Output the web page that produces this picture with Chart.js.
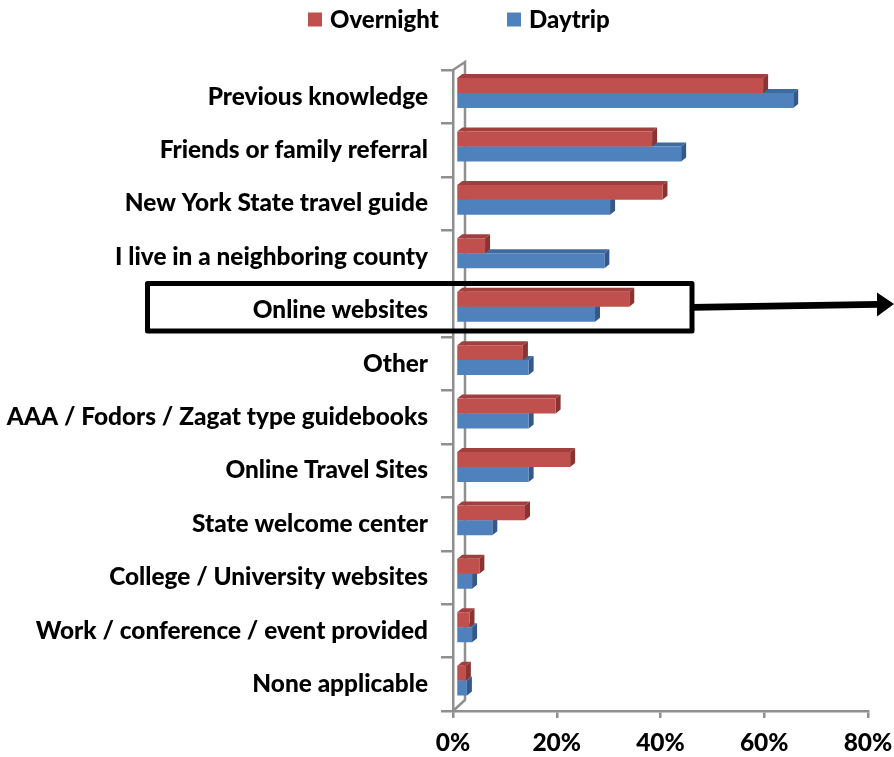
<!DOCTYPE html>
<html>
<head>
<meta charset="utf-8">
<script src="https://cdn.jsdelivr.net/npm/chart.js@4"></script>
<style>
  body { margin: 0; background: #fff; }
  canvas { display: block; }
</style>
</head>
<body>
<canvas id="sourceChart" width="894" height="757"></canvas>
<script>
const categories = [
    "Previous knowledge",
    "Friends or family referral",
    "New York State travel guide",
    "I live in a neighboring county",
    "Online websites",
    "Other",
    "AAA / Fodors / Zagat type guidebooks",
    "Online Travel Sites",
    "State welcome center",
    "College / University websites",
    "Work / conference / event provided",
    "None applicable"
];

const overnight = [59.2, 37.8, 39.8, 5.6, 33.4, 12.9, 19.2, 22.0, 13.3, 4.5, 2.6, 1.9];

const daytrip = [65.0, 43.4, 29.7, 28.6, 26.8, 14.0, 14.0, 14.0, 7.0, 3.1, 3.1, 2.1];

const xTicks = [0, 20, 40, 60, 80];

const FONT = "Lato, 'Open Sans', sans-serif";
const AXIS_GREY = "#8f8f8f";

// colours for front / top / side of the 3d bars
const faces = [
    { front: "#C0504D", top: "#A03F3D", side: "#8A3331" },
    { front: "#4F81BD", top: "#3F6A9C", side: "#34588A" }
];
const DEPTH_X = 5, DEPTH_Y = -4;
const SHIFT_X = 3, SHIFT_Y = -3.7;

// bars are drawn slightly shifted to sit inside the 3d walls
const shiftBars = {
    id: "shiftBars",
    beforeDatasetsDraw(chart) {
        chart.ctx.save();
        chart.ctx.translate(SHIFT_X, SHIFT_Y);
    },
    afterDatasetsDraw(chart) {
        chart.ctx.restore();
    },
    beforeDatasetDraw(chart, args) {
        const ctx = chart.ctx;
        const c = faces[args.index];
        args.meta.data.forEach(bar => {
            const p = bar.getProps(["x", "y", "base", "height"], true);
            const x0 = Math.min(p.base, p.x), x1 = Math.max(p.base, p.x);
            const yt = p.y - p.height / 2, yb = p.y + p.height / 2;
            ctx.fillStyle = c.top;
            ctx.beginPath();
            ctx.moveTo(x0, yt);
            ctx.lineTo(x0 + DEPTH_X, yt + DEPTH_Y);
            ctx.lineTo(x1 + DEPTH_X, yt + DEPTH_Y);
            ctx.lineTo(x1, yt);
            ctx.closePath();
            ctx.fill();
            ctx.fillStyle = c.side;
            ctx.beginPath();
            ctx.moveTo(x1, yt);
            ctx.lineTo(x1 + DEPTH_X, yt + DEPTH_Y);
            ctx.lineTo(x1 + DEPTH_X, yb + DEPTH_Y);
            ctx.lineTo(x1, yb);
            ctx.closePath();
            ctx.fill();
        });
    }
};

// back wall lines of the 3d plot
const walls = {
    id: "walls",
    beforeDatasetsDraw(chart) {
        const { ctx, chartArea: a } = chart;
        ctx.save();
        ctx.strokeStyle = AXIS_GREY;
        ctx.lineWidth = 2.5;
        ctx.beginPath();
        ctx.moveTo(a.left, a.top);
        ctx.lineTo(a.left + 12, a.top - 8);
        ctx.lineTo(a.left + 12, a.bottom - 11);
        ctx.lineTo(a.left, a.bottom);
        ctx.stroke();
        ctx.restore();
    }
};

const legendTop = {
    id: "legendTop",
    afterDraw(chart) {
        const ctx = chart.ctx;
        const spots = [308, 507];
        ctx.save();
        ctx.font = "900 24px " + FONT;
        ctx.textBaseline = "middle";
        chart.data.datasets.forEach((ds, i) => {
            ctx.fillStyle = ds.backgroundColor;
            ctx.fillRect(spots[i], 12.5, 14, 14);
            ctx.fillStyle = "#000";
            ctx.fillText(ds.label, spots[i] + 22, 20);
        });
        ctx.restore();
    }
};

// black box round "Online websites" with arrow to the right
const callout = {
    id: "callout",
    afterDraw(chart) {
        const ctx = chart.ctx;
        const yScale = chart.scales.y;
        const cy = yScale.getPixelForValue(categories.indexOf("Online websites")) - 3.5;
        ctx.save();
        ctx.strokeStyle = "#000";
        ctx.lineJoin = "round";
        ctx.lineWidth = 5;
        ctx.strokeRect(147.5, cy - 23.5, 544.5, 47.5);
        ctx.lineWidth = 7;
        ctx.beginPath();
        ctx.moveTo(692, cy + 0.5);
        ctx.lineTo(878, cy - 2.5);
        ctx.stroke();
        ctx.fillStyle = "#000";
        ctx.beginPath();
        ctx.moveTo(877, cy - 14.5);
        ctx.lineTo(894, cy - 3);
        ctx.lineTo(877, cy + 9.5);
        ctx.closePath();
        ctx.fill();
        ctx.restore();
    }
};

new Chart(document.getElementById("sourceChart"), {
    type: "bar",
    data: {
        labels: categories,
        datasets: [
            { label: "Overnight", data: overnight, backgroundColor: faces[0].front },
            { label: "Daytrip", data: daytrip, backgroundColor: faces[1].front }
        ]
    },
    options: {
        indexAxis: "y",
        responsive: false,
        animation: false,
        categoryPercentage: 0.56,
        barPercentage: 1,
        layout: { padding: { top: 70, right: 26, left: 0, bottom: 0 } },
        plugins: {
            legend: { display: false },
            tooltip: { enabled: false }
        },
        scales: {
            x: {
                min: 0,
                max: 80,
                afterBuildTicks(scale) {
                    scale.ticks = xTicks.map(v => ({ value: v }));
                },
                afterFit(scale) {
                    scale.height = 46;
                    scale.paddingLeft = 0;
                    scale.paddingRight = 0;
                },
                border: { color: AXIS_GREY, width: 2.5 },
                grid: { drawOnChartArea: false, color: AXIS_GREY, lineWidth: 2.5, tickLength: 7 },
                ticks: {
                    padding: 10,
                    color: "#000",
                    font: { family: FONT, size: 24.5, weight: "900" },
                    callback: v => v + "%"
                }
            },
            y: {
                afterFit(scale) { scale.width = 453; },
                border: { color: AXIS_GREY, width: 2.5 },
                grid: { drawOnChartArea: false, color: AXIS_GREY, lineWidth: 2.5, tickLength: 12 },
                ticks: {
                    padding: 13,
                    color: "#000",
                    autoSkip: false,
                    font: { family: FONT, size: 24.4, weight: "900" }
                }
            }
        }
    },
    plugins: [walls, shiftBars, legendTop, callout]
});
</script>
</body>
</html>
